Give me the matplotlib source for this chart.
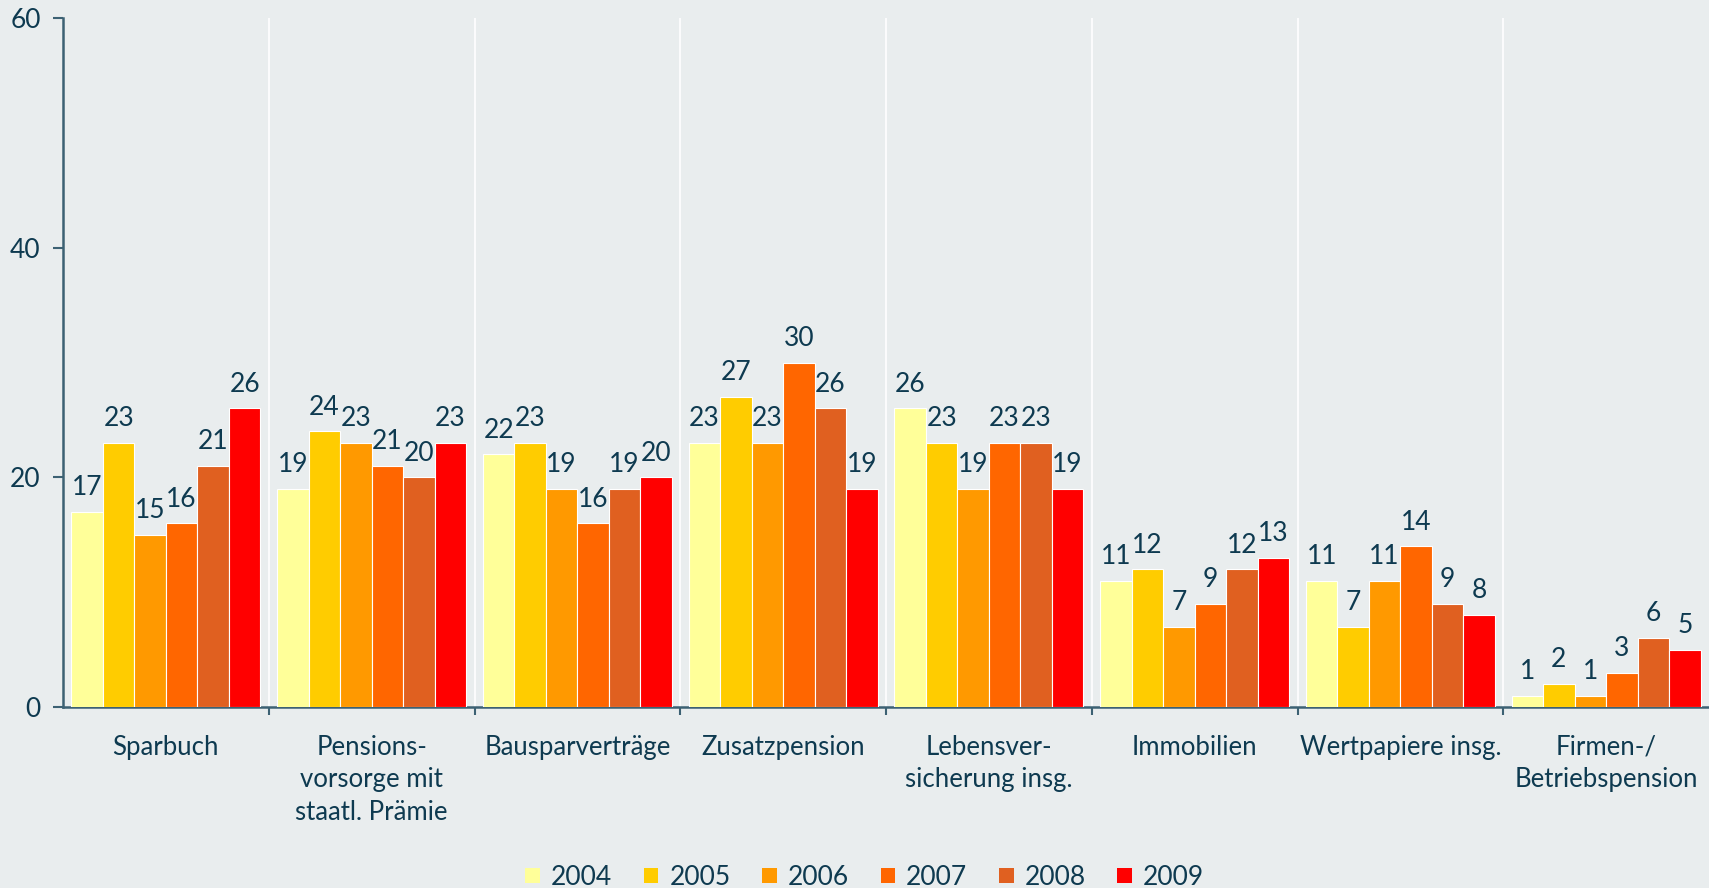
import matplotlib
matplotlib.use("Agg")
import matplotlib.pyplot as plt
import numpy as np

categories = ["Sparbuch", "Pensions-\nvorsorge mit\nstaatl. Prämie", "Bausparverträge",
              "Zusatzpension", "Lebensver-\nsicherung insg.", "Immobilien",
              "Wertpapiere insg.", "Firmen-/\nBetriebspension"]
years = ["2004", "2005", "2006", "2007", "2008", "2009"]
values = {
    "2004": [17, 19, 22, 23, 26, 11, 11, 1],
    "2005": [23, 24, 23, 27, 23, 12, 7, 2],
    "2006": [15, 23, 19, 23, 19, 7, 11, 1],
    "2007": [16, 21, 16, 30, 23, 9, 14, 3],
    "2008": [21, 20, 19, 26, 23, 12, 9, 6],
    "2009": [26, 23, 20, 19, 19, 13, 8, 5],
}
colors = ["#FFFF99", "#FFCC00", "#FF9900", "#FF6600", "#E06020", "#FF0000"]

bg = "#E9EDEE"
txt = "#0E3A50"
axc = "#3C6173"
plt.rcParams["font.family"] = ["Lato", "DejaVu Sans"]

fig = plt.figure(figsize=(17.09, 8.88), dpi=100, facecolor=bg)
ax = fig.add_axes([63/1709, 181/888, 1 - 63/1709, (707-18)/888])
ax.set_facecolor(bg)

n = len(categories)
x = np.arange(n)
w = 0.153
for i, y in enumerate(years):
    pos = x + (i - 2.5) * w
    ax.bar(pos, values[y], width=w, color=colors[i], edgecolor="white",
           linewidth=0.8, label=y, zorder=3)
    for p, v in zip(pos, values[y]):
        ax.annotate(str(v), (p, v), xytext=(0, 12), textcoords="offset points",
                    ha="center", va="baseline", fontsize=19, color=txt, zorder=4)

for b in np.arange(0.5, n - 0.5, 1):
    ax.axvline(b, color="white", lw=1.2, zorder=1)

ax.set_xlim(-0.5, n - 0.5)
ax.set_ylim(0, 60)
ax.set_yticks([0, 20, 40, 60])
ax.set_yticklabels(["0", "20", "40", "60"], fontsize=19, color=txt)
ax.tick_params(axis="y", length=7, width=1.5, color=axc, pad=9)
ax.set_xticks(x)
ax.set_xticklabels(categories, fontsize=18.5, color=txt, linespacing=1.38, va="top")
ax.tick_params(axis="x", which="major", length=0, pad=20)
ax.set_xticks(np.arange(0.5, n - 0.5, 1), minor=True)
ax.tick_params(axis="x", which="minor", length=6, width=1.5, color=axc)

for s in ["top", "right"]:
    ax.spines[s].set_visible(False)
for s in ["left", "bottom"]:
    ax.spines[s].set_color(axc)
    ax.spines[s].set_linewidth(1.8)

handles, labels = ax.get_legend_handles_labels()
leg = fig.legend(handles, labels, loc="center", bbox_to_anchor=(0.506, 0.012), ncol=6,
                 frameon=False, fontsize=19, handlelength=0.55, handleheight=0.55,
                 handletextpad=0.42, columnspacing=1.2, labelcolor=txt,
                 borderpad=0, borderaxespad=0)
for h in leg.legend_handles:
    h.set_edgecolor("none")

fig.savefig("out.png", dpi=100, facecolor=bg)
